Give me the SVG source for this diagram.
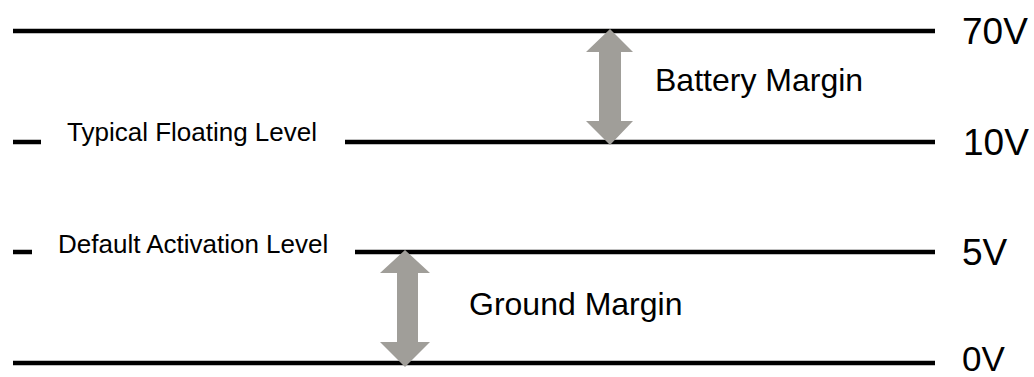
<svg xmlns="http://www.w3.org/2000/svg" width="1034" height="377" viewBox="0 0 1034 377">
  <style>
    .lvl { stroke: #000; stroke-width: 4.5; fill: none; }
    .big { font-family: "Liberation Sans", Arial, sans-serif; font-size: 37px; fill: #000; }
    .mid { font-family: "Liberation Sans", Arial, sans-serif; font-size: 32px; fill: #000; }
    .small { font-family: "Liberation Sans", Arial, sans-serif; font-size: 26px; fill: #000; }
    .arrow { fill: #a09e99; stroke: none; }
  </style>
  <rect width="1034" height="377" fill="#fff"/>

  <!-- 70V level -->
  <g id="level-70v">
    <line class="lvl" x1="13" y1="31" x2="935" y2="31"/>
    <text class="big" x="962" y="44">70V</text>
  </g>

  <!-- 10V level: typical floating -->
  <g id="level-10v">
    <line class="lvl" x1="13" y1="142" x2="41" y2="142"/>
    <text class="small" x="67" y="141">Typical Floating Level</text>
    <line class="lvl" x1="345" y1="142" x2="935" y2="142"/>
    <text class="big" x="963" y="155">10V</text>
  </g>

  <!-- 5V level: default activation -->
  <g id="level-5v">
    <line class="lvl" x1="13" y1="252" x2="32" y2="252"/>
    <text class="small" x="58" y="253">Default Activation Level</text>
    <line class="lvl" x1="355" y1="252" x2="935" y2="252"/>
    <text class="big" x="962" y="265">5V</text>
  </g>

  <!-- 0V level (slightly smaller so it stays inside the bottom edge) -->
  <g id="level-0v">
    <line class="lvl" x1="13" y1="363" x2="935" y2="363"/>
    <text class="big" x="962" y="371" style="font-size:35px">0V</text>
  </g>

  <!-- margin arrows -->
  <g id="connectors">
    <polygon class="arrow" points="610,29 633,52 621,52 621,121 633,121 610,145 586,121 599,121 599,52 586,52"/>
    <polygon class="arrow" points="405,250 430,273 418,273 418,342 430,342 405,367 380,342 397,342 397,273 380,273"/>
  </g>

  <g id="label-battery">
    <text class="mid" x="655" y="91">Battery Margin</text>
  </g>
  <g id="label-ground">
    <text class="mid" x="469" y="315">Ground Margin</text>
  </g>
</svg>
